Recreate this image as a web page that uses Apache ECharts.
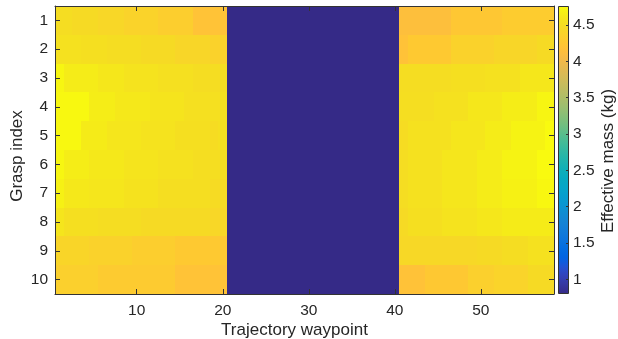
<!DOCTYPE html>
<html>
<head>
<meta charset="utf-8">
<script src="https://cdn.jsdelivr.net/npm/echarts@6/dist/echarts.min.js"></script>
<style>
html,body{margin:0;padding:0;background:#fff;}
#chart{width:618px;height:339px;}
</style>
</head>
<body>
<div id="chart"></div>
<script>
// Trajectory waypoints 1..58 (x categories) and grasp indices 1..10 (y categories)
const waypoints = [];
for (let i = 1; i <= 58; i++) waypoints.push(i);
const graspIdx = [1, 2, 3, 4, 5, 6, 7, 8, 9, 10];

// Effective mass (kg) per grasp row, 58 waypoints each
const grasp1 = [4.5,4.5,4.47,4.47,4.47,4.43,4.43,4.43,4.38,4.38,4.38,4.38,4.32,4.32,4.32,4.32,4.2,4.2,4.2,4.2,
  0.8,0.8,0.8,0.8,0.8,0.8,0.8,0.8,0.8,0.8,0.8,0.8,0.8,0.8,0.8,0.8,0.8,0.8,0.8,0.8,
  4.14,4.14,4.14,4.14,4.14,4.14,4.24,4.24,4.24,4.24,4.24,4.24,4.3,4.3,4.3,4.3,4.3,4.3];
const grasp2 = [4.54,4.54,4.54,4.52,4.52,4.52,4.5,4.5,4.5,4.5,4.47,4.47,4.47,4.47,4.42,4.42,4.42,4.42,4.37,4.37,
  0.8,0.8,0.8,0.8,0.8,0.8,0.8,0.8,0.8,0.8,0.8,0.8,0.8,0.8,0.8,0.8,0.8,0.8,0.8,0.8,
  4.18,4.27,4.27,4.27,4.27,4.27,4.37,4.37,4.37,4.37,4.37,4.42,4.42,4.42,4.42,4.42,4.47,4.47];
const grasp3 = [4.72,4.64,4.64,4.64,4.64,4.6,4.6,4.6,4.56,4.56,4.56,4.56,4.53,4.53,4.53,4.53,4.5,4.5,4.5,4.5,
  0.8,0.8,0.8,0.8,0.8,0.8,0.8,0.8,0.8,0.8,0.8,0.8,0.8,0.8,0.8,0.8,0.8,0.8,0.8,0.8,
  4.5,4.5,4.5,4.5,4.5,4.5,4.52,4.52,4.52,4.52,4.54,4.54,4.54,4.54,4.6,4.6,4.6,4.6];
const grasp4 = [4.74,4.74,4.74,4.74,4.65,4.65,4.65,4.61,4.61,4.61,4.61,4.57,4.57,4.57,4.57,4.53,4.53,4.53,4.53,4.53,
  0.8,0.8,0.8,0.8,0.8,0.8,0.8,0.8,0.8,0.8,0.8,0.8,0.8,0.8,0.8,0.8,0.8,0.8,0.8,0.8,
  4.51,4.51,4.51,4.51,4.54,4.54,4.54,4.54,4.6,4.6,4.6,4.6,4.65,4.65,4.65,4.65,4.71,4.71];
const grasp5 = [4.74,4.74,4.74,4.63,4.63,4.63,4.59,4.59,4.59,4.59,4.56,4.56,4.56,4.56,4.52,4.52,4.52,4.52,4.49,4.52,
  0.8,0.8,0.8,0.8,0.8,0.8,0.8,0.8,0.8,0.8,0.8,0.8,0.8,0.8,0.8,0.8,0.8,0.8,0.8,0.8,
  4.49,4.54,4.54,4.54,4.54,4.54,4.59,4.59,4.59,4.59,4.64,4.64,4.64,4.7,4.7,4.7,4.7,4.75];
const grasp6 = [4.72,4.65,4.65,4.65,4.61,4.61,4.61,4.61,4.57,4.57,4.57,4.57,4.54,4.54,4.54,4.54,4.51,4.51,4.51,4.51,
  0.8,0.8,0.8,0.8,0.8,0.8,0.8,0.8,0.8,0.8,0.8,0.8,0.8,0.8,0.8,0.8,0.8,0.8,0.8,0.8,
  4.5,4.54,4.54,4.54,4.54,4.59,4.59,4.59,4.59,4.64,4.64,4.64,4.7,4.7,4.7,4.7,4.75,4.75];
const grasp7 = [4.68,4.61,4.61,4.61,4.59,4.59,4.59,4.59,4.55,4.55,4.55,4.55,4.51,4.51,4.51,4.51,4.51,4.51,4.48,4.48,
  0.8,0.8,0.8,0.8,0.8,0.8,0.8,0.8,0.8,0.8,0.8,0.8,0.8,0.8,0.8,0.8,0.8,0.8,0.8,0.8,
  4.5,4.54,4.54,4.54,4.54,4.59,4.59,4.59,4.59,4.64,4.64,4.64,4.68,4.68,4.68,4.68,4.73,4.73];
const grasp8 = [4.58,4.52,4.52,4.52,4.52,4.5,4.5,4.5,4.5,4.5,4.47,4.47,4.47,4.47,4.47,4.47,4.47,4.47,4.43,4.43,
  0.8,0.8,0.8,0.8,0.8,0.8,0.8,0.8,0.8,0.8,0.8,0.8,0.8,0.8,0.8,0.8,0.8,0.8,0.8,0.8,
  4.47,4.52,4.52,4.52,4.52,4.56,4.56,4.56,4.56,4.6,4.6,4.6,4.63,4.63,4.63,4.63,4.63,4.63];
const grasp9 = [4.41,4.41,4.41,4.41,4.37,4.37,4.37,4.37,4.37,4.32,4.32,4.32,4.32,4.32,4.27,4.27,4.27,4.27,4.27,4.27,
  0.8,0.8,0.8,0.8,0.8,0.8,0.8,0.8,0.8,0.8,0.8,0.8,0.8,0.8,0.8,0.8,0.8,0.8,0.8,0.8,
  4.45,4.45,4.45,4.45,4.45,4.45,4.45,4.45,4.45,4.47,4.47,4.47,4.5,4.5,4.5,4.54,4.54,4.54];
const grasp10 = [4.34,4.34,4.34,4.34,4.34,4.29,4.29,4.29,4.29,4.29,4.29,4.29,4.29,4.29,4.19,4.19,4.19,4.19,4.19,4.19,
  0.8,0.8,0.8,0.8,0.8,0.8,0.8,0.8,0.8,0.8,0.8,0.8,0.8,0.8,0.8,0.8,0.8,0.8,0.8,0.8,
  4.18,4.18,4.18,4.26,4.26,4.26,4.26,4.26,4.34,4.34,4.34,4.39,4.39,4.39,4.39,4.47,4.47,4.47];

// Colorbar range and tick labels
const cbMin = 0.8;
const cbMax = 4.76;
const cbTicks = [1, 1.5, 2, 2.5, 3, 3.5, 4, 4.5];

// MATLAB parula colormap (64 entries)
const parula = [
[0.2081,0.1663,0.5292],[0.2116,0.1898,0.5777],[0.2123,0.2138,0.6270],[0.2081,0.2386,0.6771],
[0.1959,0.2645,0.7279],[0.1707,0.2919,0.7792],[0.1253,0.3242,0.8303],[0.0591,0.3598,0.8683],
[0.0117,0.3875,0.8820],[0.0060,0.4086,0.8828],[0.0165,0.4266,0.8786],[0.0329,0.4430,0.8720],
[0.0498,0.4586,0.8641],[0.0629,0.4737,0.8554],[0.0723,0.4887,0.8467],[0.0779,0.5040,0.8384],
[0.0793,0.5200,0.8312],[0.0749,0.5375,0.8263],[0.0641,0.5570,0.8240],[0.0488,0.5772,0.8228],
[0.0343,0.5966,0.8199],[0.0265,0.6137,0.8135],[0.0239,0.6287,0.8038],[0.0231,0.6418,0.7913],
[0.0228,0.6535,0.7768],[0.0267,0.6642,0.7607],[0.0384,0.6743,0.7436],[0.0590,0.6838,0.7254],
[0.0843,0.6928,0.7062],[0.1133,0.7015,0.6859],[0.1453,0.7098,0.6646],[0.1801,0.7177,0.6424],
[0.2178,0.7250,0.6193],[0.2586,0.7317,0.5954],[0.3022,0.7376,0.5712],[0.3482,0.7424,0.5473],
[0.3953,0.7459,0.5244],[0.4420,0.7481,0.5033],[0.4871,0.7491,0.4840],[0.5300,0.7491,0.4661],
[0.5709,0.7485,0.4494],[0.6099,0.7473,0.4337],[0.6473,0.7456,0.4188],[0.6834,0.7435,0.4044],
[0.7184,0.7411,0.3905],[0.7525,0.7384,0.3768],[0.7858,0.7356,0.3633],[0.8185,0.7327,0.3498],
[0.8507,0.7299,0.3360],[0.8824,0.7274,0.3217],[0.9139,0.7258,0.3063],[0.9450,0.7261,0.2886],
[0.9739,0.7314,0.2666],[0.9938,0.7455,0.2403],[0.9990,0.7653,0.2164],[0.9955,0.7861,0.1967],
[0.9880,0.8066,0.1794],[0.9789,0.8271,0.1633],[0.9697,0.8481,0.1475],[0.9626,0.8705,0.1309],
[0.9589,0.8949,0.1132],[0.9598,0.9218,0.0948],[0.9661,0.9514,0.0755],[0.9763,0.9831,0.0538]
].map(c => 'rgb(' + c.map(v => Math.round(v * 255)).join(',') + ')');

const effMass = [grasp1, grasp2, grasp3, grasp4, grasp5, grasp6, grasp7, grasp8, grasp9, grasp10];
const heatData = [];
effMass.forEach((row, r) => row.forEach((v, c) => heatData.push([c, r, v])));

const FONT = "'Liberation Sans', Arial, Helvetica, sans-serif";
const TXT = '#262626';
const lineStyle = { color: '#333333', width: 1 };
const tickLabel = { color: TXT, fontFamily: FONT, fontSize: 15.5 };
const xTickInterval = (idx) => (idx + 1) % 10 === 0;

// Each cell rectangle derived from the axes, snapped to whole pixels to avoid seams
function renderCell(params, api) {
  const p = api.coord([api.value(0), api.value(1)]);
  const s = api.size([1, 1]);
  const x0 = Math.round(p[0] - s[0] / 2), x1 = Math.round(p[0] + s[0] / 2);
  const y0 = Math.round(p[1] - s[1] / 2), y1 = Math.round(p[1] + s[1] / 2);
  return {
    type: 'rect',
    shape: { x: x0, y: y0, width: x1 - x0, height: y1 - y0 },
    style: { fill: api.visual('color') }
  };
}

const chart = echarts.init(document.getElementById('chart'), null, { renderer: 'canvas' });
chart.setOption({
  animation: false,
  backgroundColor: '#ffffff',
  grid: [
    { left: 55, top: 6, width: 499, height: 288, outerBoundsMode: 'none', containLabel: false },
    { left: 558, top: 6, width: 11, height: 288, outerBoundsMode: 'none', containLabel: false }
  ],
  xAxis: [
    { type: 'category', gridIndex: 0, data: waypoints, position: 'bottom', z: 5,
      axisLine: { show: true, lineStyle }, splitLine: { show: false },
      axisTick: { show: true, inside: true, length: 5, alignWithLabel: true, interval: xTickInterval, lineStyle },
      axisLabel: { show: true, interval: xTickInterval, margin: 9, ...tickLabel },
      name: 'Trajectory waypoint', nameLocation: 'middle', nameGap: 28, nameMoveOverlap: false,
      nameTextStyle: { color: TXT, fontFamily: FONT, fontSize: 17, padding: [0, 20, 0, 0] } },
    { type: 'category', gridIndex: 0, data: waypoints, position: 'top', z: 5,
      axisLine: { show: true, lineStyle }, splitLine: { show: false },
      axisTick: { show: true, inside: true, length: 5, alignWithLabel: true, interval: xTickInterval, lineStyle },
      axisLabel: { show: false } },
    { type: 'category', gridIndex: 1, data: ['cb'], show: false }
  ],
  yAxis: [
    { type: 'category', gridIndex: 0, data: graspIdx, inverse: true, position: 'left', z: 5,
      axisLine: { show: true, lineStyle }, splitLine: { show: false },
      axisTick: { show: true, inside: true, length: 5, alignWithLabel: true, interval: 0, lineStyle },
      axisLabel: { show: true, interval: 0, margin: 7, ...tickLabel },
      name: 'Grasp index', nameLocation: 'middle', nameGap: 29, nameMoveOverlap: false,
      nameTextStyle: { color: TXT, fontFamily: FONT, fontSize: 17, padding: [0, 12, 0, 0] } },
    { type: 'category', gridIndex: 0, data: graspIdx, inverse: true, position: 'right', z: 5,
      axisLine: { show: true, lineStyle }, splitLine: { show: false },
      axisTick: { show: true, inside: true, length: 5, alignWithLabel: true, interval: 0, lineStyle },
      axisLabel: { show: false } },
    { type: 'value', gridIndex: 1, min: cbMin, max: cbMax, position: 'right', z: 5,
      axisLine: { show: false }, splitLine: { show: false },
      axisTick: { show: true, inside: true, length: 3, customValues: cbTicks, lineStyle },
      axisLabel: { show: true, margin: 4, customValues: cbTicks, ...tickLabel },
      name: 'Effective mass (kg)', nameLocation: 'middle', nameGap: 31, nameMoveOverlap: false,
      nameTextStyle: { color: TXT, fontFamily: FONT, fontSize: 17, padding: [0, 22, 0, 0] } }
  ],
  visualMap: {
    type: 'continuous', show: false, min: cbMin, max: cbMax, seriesIndex: 0, dimension: 2,
    inRange: { color: parula }
  },
  series: [
    { type: 'custom', xAxisIndex: 0, yAxisIndex: 0, data: heatData, renderItem: renderCell,
      encode: { x: 0, y: 1 }, silent: true, clip: true },
    { type: 'bar', xAxisIndex: 2, yAxisIndex: 2, stack: 'cb', data: [cbMin], barWidth: '100%',
      itemStyle: { color: 'rgba(0,0,0,0)' }, silent: true },
    { type: 'bar', xAxisIndex: 2, yAxisIndex: 2, stack: 'cb', data: [cbMax - cbMin], barWidth: '100%',
      silent: true,
      itemStyle: {
        borderColor: '#333333', borderWidth: 1,
        color: { type: 'linear', x: 0, y: 1, x2: 0, y2: 0,
          colorStops: parula.map((c, i) => ({ offset: i / (parula.length - 1), color: c })) }
      } }
  ]
});
</script>
</body>
</html>
